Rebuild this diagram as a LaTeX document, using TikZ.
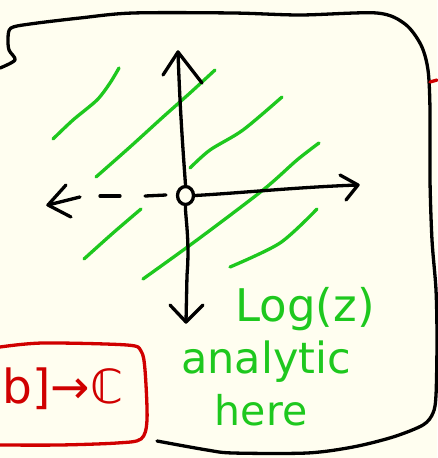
\documentclass[tikz,border=0pt]{standalone}
\usepackage{fontspec}
\usetikzlibrary{shapes.geometric}
\setmainfont{DejaVu Sans}
\definecolor{bg}{HTML}{FFFEF0}
\definecolor{pgreen}{HTML}{1EC81E}
\definecolor{pred}{HTML}{D00000}
\begin{document}
\begin{tikzpicture}[x=1pt,y=-1pt,
  ink/.style={line width=3.3pt,line cap=round,line join=round},
  blk/.style={ink,black},
  grn/.style={ink,pgreen},
  rd/.style={ink,pred},
  gtext/.style={text=pgreen,inner sep=0pt}]
\fill[bg] (0,0) rectangle (437,458);
\useasboundingbox (0,0) rectangle (437,458);
% frame
\draw[blk] plot[smooth,tension=0.5] coordinates {(0,68) (15,60) (9,50) (8,38) (11,28) (30,24) (80,18) (133,13) (233,13) (300,15) (377,13) (405,24) (421,45) (428,70) (430,110) (430,180) (432,240) (436,290) (437,340) (436,395) (433,413) (423,425) (393,437) (353,447) (307,453) (233,453) (207,450) (157,441)};
\draw[rd] (430,82) -- (437,80);
% red box
\draw[rd] plot[smooth,tension=0.5] coordinates {(0,347) (43,343) (127,345) (141,351) (145,370) (147,420) (141,439) (117,443) (60,445) (0,445)};
\node[text=pred,inner sep=0pt,font=\fontsize{47}{47}\selectfont] (map) at (63,389) {b]→ℂ};
% green hatching
\draw[grn] plot[smooth] coordinates {(53,139) (73,120) (97,100) (110,83) (119,68)};
\draw[grn] plot[smooth] coordinates {(96,177) (130,147) (163,117) (190,93) (215,70)};
\draw[grn] plot[smooth] coordinates {(190,168) (210,150) (243,130) (282,97)};
\draw[grn] plot[smooth] coordinates {(84,259) (113,233) (141,209)};
\draw[grn] plot[smooth] coordinates {(143,279) (197,240) (263,190) (297,160) (319,143)};
\draw[grn] plot[smooth] coordinates {(230,267) (280,243) (317,209)};
% axes
\node[blk,draw,ellipse,minimum width=16pt,minimum height=18pt,inner sep=0pt] (o) at (185.5,195.5) {};
\coordinate (top) at (178,52);
\coordinate (bot) at (186,322);
\coordinate (rt) at (358,185);
\coordinate (lt) at (48,205);
\draw[blk] (top) .. controls (180,110) and (183,150) .. (o.north);
\draw[blk] (o.south) .. controls (185,215) and (190,240) .. (187,275) -- (bot);
\draw[blk] (163,75) -- (top) -- (202,83);
\draw[blk] (170,305) -- (bot) -- (203,305);
\draw[blk] (o.east) .. controls (240,193) and (300,187) .. (rt);
\draw[blk] (340,175) -- (rt) -- (346,200);
\draw[blk] (166,195) -- (145,196);
\draw[blk] (120,196) -- (100,196);
\draw[blk] (80,197) -- (lt);
\draw[blk] (66,185) -- (lt) -- (71,217);
% text
\node[gtext,font=\fontsize{45}{45}\selectfont] (log) at (305,309) {Log(z)};
\node[gtext,font=\fontsize{43}{43}\selectfont] (an) at (266,362) {analytic};
\node[gtext,font=\fontsize{41}{41}\selectfont] (here) at (261,410) {here};
\end{tikzpicture}
\end{document}
